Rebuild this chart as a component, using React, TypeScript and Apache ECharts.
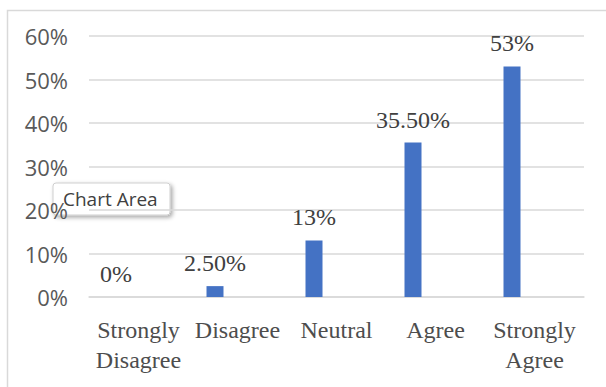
import React, { useEffect, useRef } from "react";
import * as echarts from "echarts";

const categories = ["Strongly\nDisagree", "Disagree", "Neutral", "Agree", "Strongly\nAgree"];
const percentages = [0, 2.5, 13, 35.5, 53];
const yTicks = { min: 0, max: 60, interval: 10 };

const fmtPct = (v: number) => (Number.isInteger(v) ? `${v}%` : `${v.toFixed(2)}%`);

export default function App() {
  const ref = useRef<HTMLDivElement>(null);

  useEffect(() => {
    if (!ref.current) return;
    const chart = echarts.init(ref.current, undefined, { renderer: "svg" });
    const serif = "'Liberation Serif', 'Times New Roman', serif";
    const sans = "'Open Sans', 'Noto Sans', sans-serif";

    chart.setOption({
      animation: false,
      backgroundColor: "#ffffff",
      // grid 0: gridlines, value labels and category names
      // grid 1: the bars, sitting a little to the left of their names
      grid: [
        { left: 89, right: 22, top: 36, bottom: 90, containLabel: false },
        { left: 66.5, right: 44.5, top: 36, bottom: 90, containLabel: false },
      ],
      xAxis: [
        {
          type: "category",
          gridIndex: 0,
          data: categories,
          axisLine: { show: true, lineStyle: { color: "#d9d9d9", width: 1.5 } },
          axisTick: { show: false },
          axisLabel: {
            interval: 0,
            margin: 18,
            fontFamily: serif,
            fontSize: 24,
            lineHeight: 30,
            color: "#4d4d4d",
          },
        },
        {
          type: "category",
          gridIndex: 1,
          data: categories,
          show: false,
        },
      ],
      yAxis: [
        {
          type: "value",
          gridIndex: 0,
          min: yTicks.min,
          max: yTicks.max,
          interval: yTicks.interval,
          axisLine: { show: false },
          axisTick: { show: false },
          splitLine: { lineStyle: { color: "#d9d9d9", width: 1.5 } },
          axisLabel: {
            margin: 21,
            formatter: "{value}%",
            fontFamily: sans,
            fontSize: 22,
            color: "#595959",
          },
        },
        {
          type: "value",
          gridIndex: 1,
          min: yTicks.min,
          max: yTicks.max,
          interval: yTicks.interval,
          show: false,
          splitLine: { show: false },
        },
      ],
      series: [
        {
          type: "bar",
          xAxisIndex: 1,
          yAxisIndex: 1,
          barWidth: 17,
          itemStyle: { color: "#4472c4" },
          data: percentages,
          label: {
            show: true,
            position: "top",
            distance: 11,
            formatter: (p: any) => fmtPct(p.value),
            fontFamily: serif,
            fontSize: 24,
            color: "#404040",
          },
        },
      ],
      graphic: [
        {
          type: "rect",
          z: 0,
          silent: true,
          shape: { x: 7.5, y: 10.5, width: 640, height: 400 },
          style: { fill: "none", stroke: "#d9d9d9", lineWidth: 1.5 },
        },
        {
          type: "group",
          z: 100,
          children: [
            {
              type: "rect",
              shape: { x: 53, y: 183, width: 117, height: 32, r: 3 },
              style: {
                fill: "#ffffff",
                stroke: "#cfcfcf",
                lineWidth: 1,
                shadowBlur: 4,
                shadowOffsetX: 2,
                shadowOffsetY: 2,
                shadowColor: "rgba(0,0,0,0.35)",
              },
            },
            {
              type: "text",
              x: 63,
              y: 199,
              style: {
                text: "Chart Area",
                fontFamily: sans,
                fontSize: 19,
                fill: "#404040",
                verticalAlign: "middle",
              },
            },
          ],
        },
      ],
    });

    return () => chart.dispose();
  }, []);

  return (
    <div
      ref={ref}
      style={{ position: "absolute", left: 0, top: 0, width: 606, height: 387 }}
    />
  );
}
